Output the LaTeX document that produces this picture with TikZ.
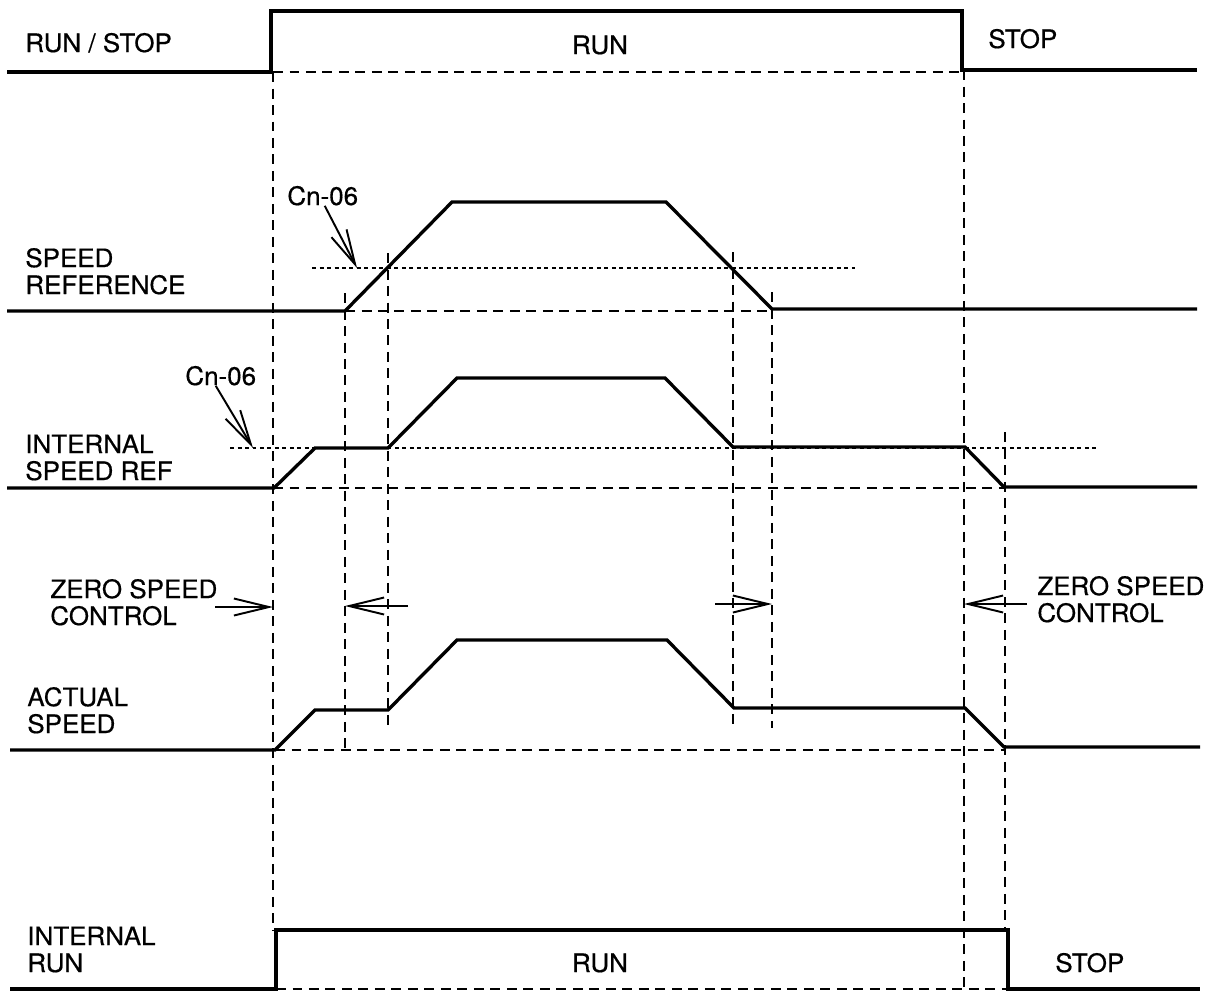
\documentclass[tikz,border=0pt]{standalone}
\usepackage{fontspec}
\setmainfont[FakeStretch=1.02,FakeBold=0.5]{TeX Gyre Heros}
\usetikzlibrary{arrows.meta}
\definecolor{tdink}{RGB}{0,0,0}
\tikzset{
  tdSig/.style={draw=tdink, line width=1.9pt, line join=miter},
  tdGuide/.style={draw=tdink, line width=1pt, dash pattern=on 0.2cm off 0.13cm},
  tdLevel/.style={draw=tdink, line width=1pt, dash pattern=on 0.08cm off 0.07cm},
  tdPtr/.style={-{Straight Barb[length=7mm,width=3.4mm]}, draw=tdink, line width=1.1pt},
  tdText/.style={anchor=base west, inner sep=0pt, align=left,
                 font=\fontsize{14.5}{15.3}\selectfont},
  tdMid/.style={tdText, anchor=base}
}
\begin{document}
\begin{tikzpicture}[x=0.02cm,y=-0.02cm]
  \useasboundingbox (0,0) rectangle (1213,992);

  \node[tdText] (runstop) at (25,52) {RUN / STOP};
  \node[tdMid] (runtop) at (600,54) {RUN};
  \node[tdText] (stoptop) at (988,48) {STOP};
  \node[tdText] (spdref) at (25,294) {SPEED\\REFERENCE};
  \node[tdText] (intref) at (25,480) {INTERNAL\\SPEED REF};
  \node[tdText] (zscL) at (50,625) {ZERO SPEED\\CONTROL};
  \node[tdText] (zscR) at (1037,622) {ZERO SPEED\\CONTROL};
  \node[tdText] (actual) at (27,733) {ACTUAL\\SPEED};
  \node[tdText] (intrun) at (27,972) {INTERNAL\\RUN};
  \node[tdMid] (runbot) at (600,972) {RUN};
  \node[tdText] (stopbot) at (1055,972) {STOP};
  \node[tdText] (cnA) at (287,205) {Cn-06};
  \node[tdText] (cnB) at (185,385) {Cn-06};

  \coordinate (cnAtip) at (357,268);
  \coordinate (cnBtip) at (253,448);
  \coordinate (zsAfrom) at (215,607);
  \coordinate (zsAto) at (273,607);
  \coordinate (zsBfrom) at (408,606);
  \coordinate (zsBto) at (345,606);
  \coordinate (zsCfrom) at (715,604);
  \coordinate (zsCto) at (772,604);
  \coordinate (zsDfrom) at (1027,604);
  \coordinate (zsDto) at (964,604);

  \draw[tdGuide] (273,72) -- (273,930);
  \draw[tdGuide] (964,70) -- (964,989);
  \draw[tdGuide] (1005,432) -- (1005,930);
  \draw[tdGuide] (345,293) -- (345,750);
  \draw[tdGuide] (388,253) -- (388,728);
  \draw[tdGuide] (733,252) -- (733,728);
  \draw[tdGuide] (772,292) -- (772,728);
  \draw[tdGuide] (273,72) -- (962,72);
  \draw[tdGuide] (345,311) -- (772,311);
  \draw[tdGuide] (273,488) -- (1004,488);
  \draw[tdGuide] (275,750) -- (1004,750);
  \draw[tdGuide] (276,989) -- (1007,989);
  \draw[tdLevel] (312,268) -- (855,268);
  \draw[tdLevel] (230,448) -- (1097,448);

  \draw[tdSig] (7,72) -- (271,72) -- (271,11) -- (962,11) -- (962,70) -- (1197,70);
  \draw[tdSig] (7,311) -- (345,311) -- (452,202) -- (666,202) -- (772,309) -- (1197,309);
  \draw[tdSig] (7,488) -- (274,488) -- (315,448) -- (388,448) -- (457,378)
        -- (665,378) -- (733,447) -- (965,447) -- (1004,487) -- (1197,487);
  \draw[tdSig] (10,750) -- (275,750) -- (315,710) -- (388,710) -- (457,640)
        -- (667,640) -- (734,708) -- (965,708) -- (1004,747) -- (1200,747);
  \draw[tdSig] (10,989) -- (276,989) -- (276,930) -- (1008,930) -- (1008,989) -- (1200,989);

  \draw[tdPtr] ([xshift=0.4mm]cnA.south) -- (cnAtip);
  \draw[tdPtr] ([xshift=-1mm]cnB.south) -- (cnBtip);
  \draw[tdPtr] (zsAfrom) -- (zsAto);
  \draw[tdPtr] (zsBfrom) -- (zsBto);
  \draw[tdPtr] (zsCfrom) -- (zsCto);
  \draw[tdPtr] (zsDfrom) -- (zsDto);
\end{tikzpicture}
\end{document}
